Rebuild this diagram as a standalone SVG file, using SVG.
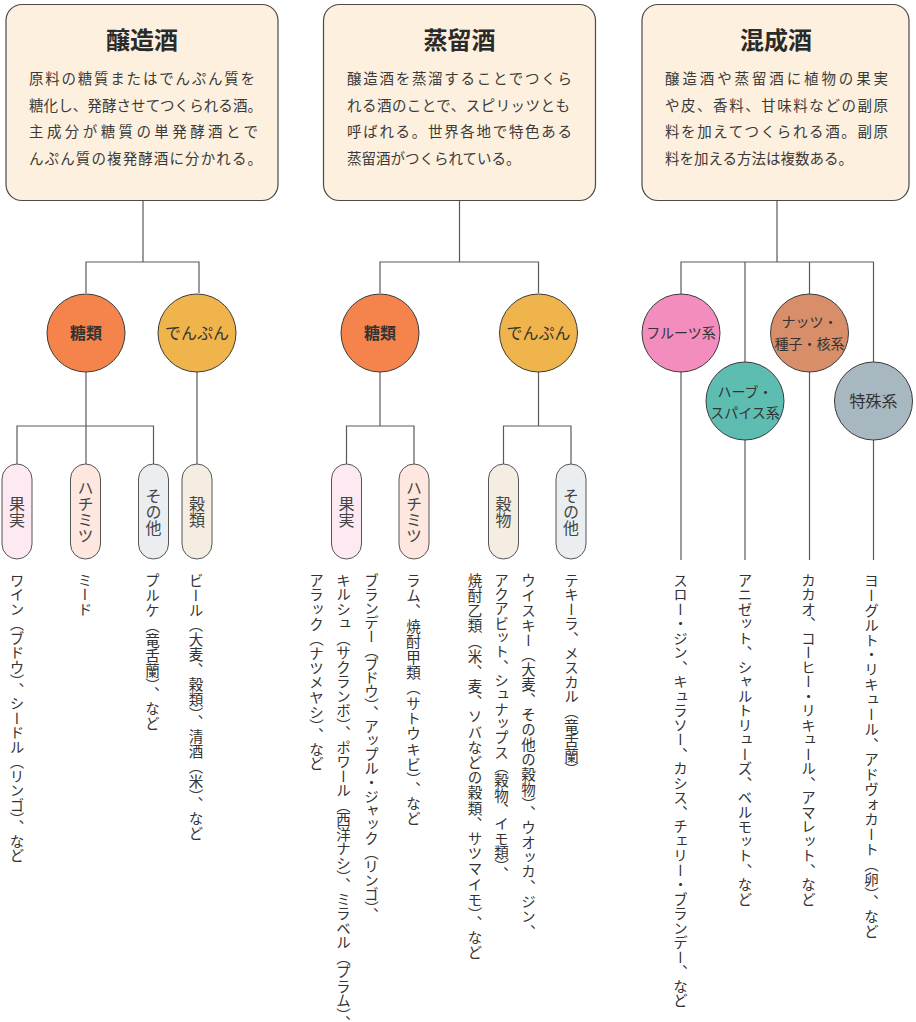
<svg xmlns="http://www.w3.org/2000/svg" width="916" height="1022" viewBox="0 0 916 1022">
<style>
.box{fill:#fdf0de;stroke:#4a4a4a;stroke-width:1.2}
.title{font-family:"Noto Sans CJK JP","Noto Sans",sans-serif;font-size:24px;font-weight:bold;fill:#2a2a2a;text-anchor:middle}
.body{font-family:"Noto Sans CJK JP","Noto Sans",sans-serif;font-size:14.5px;fill:#3a3a3a}
.con{fill:none;stroke:#5a5a5a;stroke-width:1.2}
.circ{stroke:#3a3a3a;stroke-width:1}
.clabel{font-family:"Noto Sans CJK JP",sans-serif;font-size:16px;fill:#333;text-anchor:middle}
.clabel2{font-family:"Noto Sans CJK JP",sans-serif;font-size:14px;fill:#333;text-anchor:middle}
.pill{stroke:#555;stroke-width:1}
.plabel{font-family:"Noto Sans CJK JP",sans-serif;font-size:16px;fill:#444;writing-mode:vertical-rl;text-anchor:middle}
.col{font-family:"Noto Sans CJK JP",sans-serif;font-size:14.5px;fill:#333;writing-mode:vertical-rl}
</style>

<g id="connectors">
<path class="con" d="M143 200V262M86 293V262H199V293"/>
<path class="con" d="M86 372V464M17 464V426H153.5V464M197 372V464"/>
<path class="con" d="M459.5 200V262M380 293V262H538.5V293"/>
<path class="con" d="M380 372V426M346.5 464V426H414V464M538.5 372V426M503.5 464V426H571V464"/>
<path class="con" d="M777 200V262M681 560V262H873.5V560M745 262V560M809.5 262V560"/>
</g>

<g id="box-jozoshu">
<rect class="box" x="6" y="4.5" width="272" height="196" rx="16"/>
<text class="title" x="142" y="49">醸造酒</text>
<text class="body" x="29" y="84" textLength="226" lengthAdjust="spacing">原料の糖質またはでんぷん質を</text>
<text class="body" x="29" y="110.5" textLength="233" lengthAdjust="spacing">糖化し、発酵させてつくられる酒。</text>
<text class="body" x="29" y="137" textLength="229" lengthAdjust="spacing">主成分が糖質の単発酵酒とで</text>
<text class="body" x="29" y="163.5" textLength="233" lengthAdjust="spacing">んぷん質の複発酵酒に分かれる。</text>
</g>

<g id="box-jouryushu">
<rect class="box" x="323.5" y="4.5" width="272" height="196" rx="16"/>
<text class="title" x="459.5" y="49">蒸留酒</text>
<text class="body" x="347" y="84" textLength="225" lengthAdjust="spacing">醸造酒を蒸溜することでつくら</text>
<text class="body" x="347" y="110.5" textLength="223" lengthAdjust="spacing">れる酒のことで、スピリッツとも</text>
<text class="body" x="347" y="137" textLength="225" lengthAdjust="spacing">呼ばれる。世界各地で特色ある</text>
<text class="body" x="347" y="163.5">蒸留酒がつくられている。</text>
</g>

<g id="box-konseishu">
<rect class="box" x="642" y="4.5" width="267" height="196" rx="16"/>
<text class="title" x="776" y="49">混成酒</text>
<text class="body" x="665" y="84" textLength="223" lengthAdjust="spacing">醸造酒や蒸留酒に植物の果実</text>
<text class="body" x="665" y="110.5" textLength="223" lengthAdjust="spacing">や皮、香料、甘味料などの副原</text>
<text class="body" x="665" y="137" textLength="223" lengthAdjust="spacing">料を加えてつくられる酒。副原</text>
<text class="body" x="665" y="163.5">料を加える方法は複数ある。</text>
</g>

<g id="c-toorui-1"><circle class="circ" cx="86" cy="333" r="39" fill="#f4844c"/><text class="clabel" x="86" y="339" font-weight="bold">糖類</text></g>
<g id="c-denpun-1"><circle class="circ" cx="197" cy="333" r="39" fill="#efb44b"/><text class="clabel" x="197" y="339">でんぷん</text></g>
<g id="c-toorui-2"><circle class="circ" cx="380" cy="333" r="39" fill="#f4844c"/><text class="clabel" x="380" y="339" font-weight="bold">糖類</text></g>
<g id="c-denpun-2"><circle class="circ" cx="538.5" cy="333" r="39" fill="#efb44b"/><text class="clabel" x="538.5" y="339">でんぷん</text></g>
<g id="c-fruit"><circle class="circ" cx="681" cy="333" r="39" fill="#f28dbd"/><text class="clabel2" x="681" y="338">フルーツ系</text></g>
<g id="c-herb"><circle class="circ" cx="745" cy="401" r="39" fill="#5ebdb1"/><text class="clabel2" x="745" y="396.5">ハーブ・</text><text class="clabel2" x="745" y="417.5">スパイス系</text></g>
<g id="c-nuts"><circle class="circ" cx="809.5" cy="333" r="39" fill="#d78e69"/><text class="clabel2" x="809.5" y="326.5">ナッツ・</text><text class="clabel2" x="809.5" y="348.5">種子・核系</text></g>
<g id="c-special"><circle class="circ" cx="873.5" cy="401" r="39" fill="#a8b8c1"/><text class="clabel" x="873.5" y="407">特殊系</text></g>

<g id="p-kajitsu-1"><rect class="pill" x="2" y="464" width="30" height="95" rx="15" fill="#fde9f1"/><text class="plabel" x="17" y="511.5">果実</text></g>
<g id="p-hachimitsu-1"><rect class="pill" x="70.5" y="464" width="30" height="95" rx="15" fill="#fde7df"/><text class="plabel" x="85.5" y="511.5">ハチミツ</text></g>
<g id="p-sonota-1"><rect class="pill" x="138.5" y="464" width="30" height="95" rx="15" fill="#eaeef1"/><text class="plabel" x="153.5" y="511.5">その他</text></g>
<g id="p-kokurui"><rect class="pill" x="182" y="464" width="30" height="95" rx="15" fill="#f5ede2"/><text class="plabel" x="197" y="511.5">穀類</text></g>
<g id="p-kajitsu-2"><rect class="pill" x="331.5" y="464" width="30" height="95" rx="15" fill="#fde9f1"/><text class="plabel" x="346.5" y="511.5">果実</text></g>
<g id="p-hachimitsu-2"><rect class="pill" x="399" y="464" width="30" height="95" rx="15" fill="#fde7df"/><text class="plabel" x="414" y="511.5">ハチミツ</text></g>
<g id="p-kokumotsu"><rect class="pill" x="488.5" y="464" width="30" height="95" rx="15" fill="#f5ede2"/><text class="plabel" x="503.5" y="511.5">穀物</text></g>
<g id="p-sonota-2"><rect class="pill" x="556" y="464" width="30" height="95" rx="15" fill="#eaeef1"/><text class="plabel" x="571" y="511.5">その他</text></g>

<g id="ex-wine"><text class="col" x="17" y="573">ワイン（ブドウ）、シードル（リンゴ）、など</text></g>
<g id="ex-mead"><text class="col" x="85" y="573">ミード</text></g>
<g id="ex-pulque"><text class="col" x="152.5" y="573" textLength="158" lengthAdjust="spacing">プルケ（竜舌蘭）、など</text></g>
<g id="ex-beer"><text class="col" x="196" y="573" textLength="268" lengthAdjust="spacing">ビール（大麦、穀類）、清酒（米）、など</text></g>
<g id="ex-brandy">
<text class="col" x="371.5" y="573" textLength="349" lengthAdjust="spacing">ブランデー（ブドウ）、アップル・ジャック（リンゴ）、</text>
<text class="col" x="343.5" y="573">キルシュ（サクランボ）、ポワール（西洋ナシ）、ミラベル（プラム）、</text>
<text class="col" x="316.5" y="573" textLength="198" lengthAdjust="spacing">アラック（ナツメヤシ）、など</text>
</g>
<g id="ex-rum"><text class="col" x="413.5" y="573" textLength="253" lengthAdjust="spacing">ラム、焼酎甲類（サトウキビ）、など</text></g>
<g id="ex-whisky">
<text class="col" x="528.5" y="573" textLength="366" lengthAdjust="spacing">ウイスキー（大麦、その他の穀物）、ウオッカ、ジン、</text>
<text class="col" x="501.5" y="573" textLength="308" lengthAdjust="spacing">アクアビット、シュナップス（穀物、イモ類）、</text>
<text class="col" x="475" y="573" textLength="387" lengthAdjust="spacing">焼酎乙類（米、麦、ソバなどの穀類、サツマイモ）、など</text>
</g>
<g id="ex-tequila"><text class="col" x="571.5" y="573" textLength="204" lengthAdjust="spacing">テキーラ、メスカル（竜舌蘭）</text></g>
<g id="ex-fruit"><text class="col" x="680.5" y="573">スロー・ジン、キュラソー、カシス、チェリー・ブランデー、など</text></g>
<g id="ex-herb"><text class="col" x="745" y="573">アニゼット、シャルトリューズ、ベルモット、など</text></g>
<g id="ex-nuts"><text class="col" x="808.5" y="573">カカオ、コーヒー・リキュール、アマレット、など</text></g>
<g id="ex-special"><text class="col" x="871.5" y="573" textLength="366" lengthAdjust="spacing">ヨーグルト・リキュール、アドヴォカート（卵）、など</text></g>
</svg>
